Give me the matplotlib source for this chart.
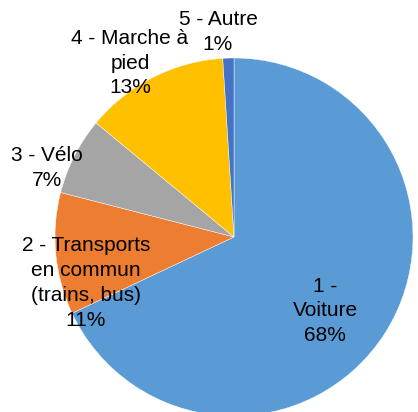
import matplotlib.pyplot as plt

labels = ["1 -\nVoiture\n68%", "2 - Transports\nen commun\n(trains, bus)\n11%",
          "3 - Vélo\n7%", "4 - Marche à\npied\n13%", "5 - Autre\n1%"]
shares = [68, 11, 7, 13, 1]
colors = ["#5B9BD5", "#ED7D31", "#A5A5A5", "#FFC000", "#4472C4"]

# label centres in pixel coords (from top-left)
label_pos = [(325, 311), (86, 283), (47, 168), (130, 63), (218, 32)]

W, H = 418, 412
fig = plt.figure(figsize=(W / 100, H / 100), dpi=100)
ax = fig.add_axes([0, 0, 1, 1])

wedges, _ = ax.pie(shares, colors=colors, startangle=90, counterclock=False,
                   center=(234, H - 237), radius=179,
                   wedgeprops=dict(edgecolor="white", linewidth=0.3),
                   frame=True)
ax.set_xlim(0, W)
ax.set_ylim(0, H)
ax.set_aspect("equal")
ax.axis("off")

for lab, (x, y) in zip(labels, label_pos):
    ax.text(x, H - y, lab, ha="center", va="center", fontsize=15,
            family="Liberation Sans", linespacing=1.38, color="black")

fig.savefig("out.png", dpi=100)
